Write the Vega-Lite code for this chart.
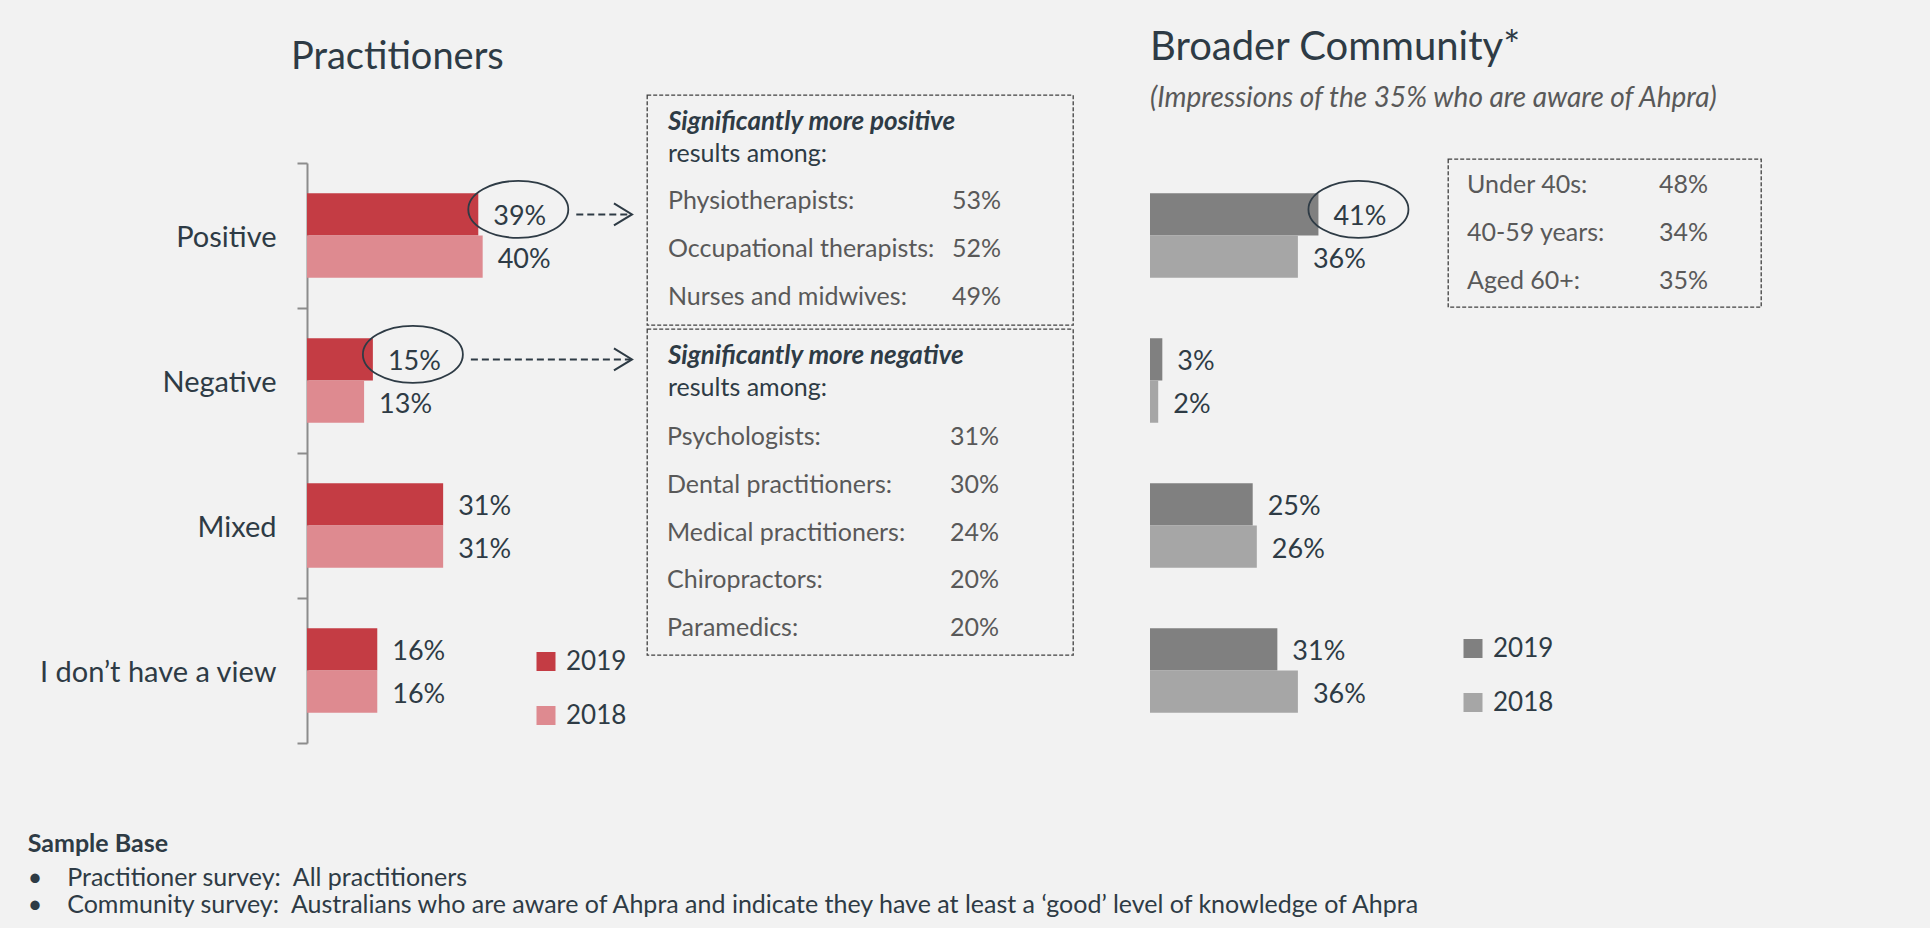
{
  "$schema": "https://vega.github.io/schema/vega-lite/v6.json",
  "background": "#F2F2F2",
  "padding": {"left": 27, "top": 28, "right": 168, "bottom": 10},
  "config": {
    "view": {"stroke": null},
    "font": "Lato",
    "title": {"font": "Lato", "subtitleFont": "Lato", "color": "#2E3B45", "subtitleColor": "#2E3B45", "fontWeight": "normal"},
    "legend": {"symbolType": "square", "symbolSize": 361, "symbolStrokeWidth": 0, "labelFont": "Lato", "labelFontSize": 26, "labelColor": "#2E3B45", "labelOffset": 7, "rowPadding": 28, "padding": 0}
  },
  "datasets": {
    "practitioners": [
      {"impression": "Positive", "year": "2019", "pct": 39, "breakdown": true},
      {"impression": "Positive", "year": "2018", "pct": 40, "breakdown": false},
      {"impression": "Negative", "year": "2019", "pct": 15, "breakdown": true},
      {"impression": "Negative", "year": "2018", "pct": 13, "breakdown": false},
      {"impression": "Mixed", "year": "2019", "pct": 31, "breakdown": false},
      {"impression": "Mixed", "year": "2018", "pct": 31, "breakdown": false},
      {"impression": "I don’t have a view", "year": "2019", "pct": 16, "breakdown": false},
      {"impression": "I don’t have a view", "year": "2018", "pct": 16, "breakdown": false}
    ],
    "community": [
      {"impression": "Positive", "year": "2019", "pct": 41, "breakdown": true},
      {"impression": "Positive", "year": "2018", "pct": 36, "breakdown": false},
      {"impression": "Negative", "year": "2019", "pct": 3, "breakdown": false},
      {"impression": "Negative", "year": "2018", "pct": 2, "breakdown": false},
      {"impression": "Mixed", "year": "2019", "pct": 25, "breakdown": false},
      {"impression": "Mixed", "year": "2018", "pct": 26, "breakdown": false},
      {"impression": "I don’t have a view", "year": "2019", "pct": 31, "breakdown": false},
      {"impression": "I don’t have a view", "year": "2018", "pct": 36, "breakdown": false}
    ],
    "positiveGroups": [
      {"group": "Physiotherapists", "pct": 53},
      {"group": "Occupational therapists", "pct": 52},
      {"group": "Nurses and midwives", "pct": 49}
    ],
    "negativeGroups": [
      {"group": "Psychologists", "pct": 31},
      {"group": "Dental practitioners", "pct": 30},
      {"group": "Medical practitioners", "pct": 24},
      {"group": "Chiropractors", "pct": 20},
      {"group": "Paramedics", "pct": 20}
    ],
    "ageGroups": [
      {"group": "Under 40s", "pct": 48},
      {"group": "40-59 years", "pct": 34},
      {"group": "Aged 60+", "pct": 35}
    ]
  },
  "title": {
    "text": "Sample Base",
    "subtitle": [
      "\u2022\u2003\u2005Practitioner survey:\u00a0\u00a0All practitioners",
      "\u2022\u2003\u2005Community survey:\u00a0\u00a0Australians who are aware of Ahpra and indicate they have at least a ‘good’ level of knowledge of Ahpra"
    ],
    "orient": "bottom", "anchor": "start", "frame": "bounds", "offset": 88, "dx": -11,
    "fontSize": 25, "fontWeight": "bold", "subtitleFontSize": 25, "subtitlePadding": 9, "subtitleLineHeight": 27
  },
  "resolve": {"scale": {"color": "independent", "fill": "independent", "yOffset": "independent"}},
  "spacing": 76,
  "hconcat": [
    {
      "resolve": {"scale": {"color": "independent"}},
      "spacing": 10,
      "hconcat": [
        {
          "resolve": {"scale": {"color": "independent"}},
          "spacing": 0,
          "vconcat": [
            {
              "width": 325, "height": 54,
              "title": {"text": "Practitioners", "anchor": "start", "frame": "group", "dx": -16, "offset": 18, "fontSize": 38},
              "data": {"values": []},
              "mark": "text"
            },
            {
              "width": 325, "height": 580,
              "data": {"name": "practitioners"},
              "transform": [{"calculate": "datum.pct + '%'", "as": "label"}],
              "encoding": {
                "y": {"field": "impression", "type": "nominal", "sort": null,
                      "scale": {"paddingInner": 0, "paddingOuter": 0},
                      "axis": {"title": null, "tickBand": "extent", "domainColor": "#8C8C8C", "domainWidth": 2, "tickColor": "#8C8C8C", "tickWidth": 2, "tickSize": 10, "labelFontSize": 29, "labelColor": "#2E3B45", "labelPadding": 21, "labelLimit": 400, "labelOffset": 2, "grid": false}},
                "x": {"field": "pct", "type": "quantitative", "scale": {"domain": [0, 74]}, "axis": null},
                "yOffset": {"field": "year", "type": "nominal", "scale": {"domain": ["2019", "2018"], "paddingInner": 0, "paddingOuter": 0.716}}
              },
              "layer": [
                {"mark": {"type": "bar"},
                 "encoding": {"color": {"field": "year", "type": "nominal", "scale": {"domain": ["2019", "2018"], "range": ["#C43C44", "#DE8A90"]}, "legend": {"title": null, "orient": "none", "legendX": 226, "legendY": 485.5}}}},
                {"transform": [{"filter": "datum.breakdown"}],
                 "mark": {"type": "point", "shape": "M-0.2,-0.1A1,0.57,0,1,0,1.8,-0.1A1,0.57,0,1,0,-0.2,-0.1Z", "size": 10000, "filled": false, "stroke": "#2E3B45", "strokeWidth": 1.8, "opacity": 1}},
                {"mark": {"type": "text", "align": "left", "baseline": "middle", "dx": 15, "dy": 3, "fontSize": 27, "color": "#2E3B45"},
                 "encoding": {"text": {"field": "label"}}},
                {"transform": [{"filter": "datum.breakdown"}],
                 "mark": {"type": "rule", "strokeDash": [7, 4], "strokeWidth": 2, "color": "#2E3B45", "xOffset": 98, "x2Offset": -2},
                 "encoding": {"x2": {"value": "width"}}},
                {"transform": [{"filter": "datum.breakdown"}],
                 "mark": {"type": "point", "shape": "M-1.64,-1L0,0L-1.64,1", "size": 484, "filled": false, "stroke": "#2E3B45", "strokeWidth": 2, "opacity": 1},
                 "encoding": {"x": {"value": "width"}}}
              ]
            }
          ]
        },
        {
          "spacing": 2,
          "vconcat": [
            {
              "width": 426, "height": 230,
              "view": {"stroke": "#404040", "strokeDash": [4, 2], "strokeWidth": 1.3},
              "title": {"text": "Significantly more positive", "subtitle": "results among:", "anchor": "start", "frame": "group", "dx": 21, "offset": -72, "fontSize": 26, "fontWeight": "bold", "fontStyle": "italic", "subtitleFontSize": 25, "subtitleFontStyle": "normal", "subtitleFontWeight": "normal", "subtitlePadding": 7},
              "data": {"name": "positiveGroups"},
              "transform": [
                {"calculate": "datum.group + ':'", "as": "label"},
                {"calculate": "datum.pct + '%'", "as": "value"},
                {"fold": ["label", "value"], "as": ["column", "cell"]}
              ],
              "mark": {"type": "text", "align": "left", "baseline": "alphabetic", "fontSize": 25, "color": "#595959"},
              "encoding": {
                "x": {"field": "column", "type": "nominal", "scale": {"type": "point", "domain": ["label", "value"], "range": [21, 305], "padding": 0}, "axis": null},
                "y": {"field": "group", "type": "nominal", "sort": null, "scale": {"type": "point", "range": [114, 210], "padding": 0}, "axis": null},
                "text": {"field": "cell"}
              }
            },
            {
              "width": 426, "height": 326,
              "view": {"stroke": "#404040", "strokeDash": [4, 2], "strokeWidth": 1.3},
              "title": {"text": "Significantly more negative", "subtitle": "results among:", "anchor": "start", "frame": "group", "dx": 21, "offset": -72, "fontSize": 26, "fontWeight": "bold", "fontStyle": "italic", "subtitleFontSize": 25, "subtitleFontStyle": "normal", "subtitleFontWeight": "normal", "subtitlePadding": 7},
              "data": {"name": "negativeGroups"},
              "transform": [
                {"calculate": "datum.group + ':'", "as": "label"},
                {"calculate": "datum.pct + '%'", "as": "value"},
                {"fold": ["label", "value"], "as": ["column", "cell"]}
              ],
              "mark": {"type": "text", "align": "left", "baseline": "alphabetic", "fontSize": 25, "color": "#595959"},
              "encoding": {
                "x": {"field": "column", "type": "nominal", "scale": {"type": "point", "domain": ["label", "value"], "range": [20, 303], "padding": 0}, "axis": null},
                "y": {"field": "group", "type": "nominal", "sort": null, "scale": {"type": "point", "range": [116, 307], "padding": 0}, "axis": null},
                "text": {"field": "cell"}
              }
            }
          ]
        }
      ]
    },
    {
      "title": {"text": "Broader Community*", "subtitle": "(Impressions of the 35% who are aware of Ahpra)", "anchor": "start", "frame": "bounds", "offset": -18, "fontSize": 40, "subtitleFontSize": 28, "subtitleFontStyle": "italic", "subtitleColor": "#595959", "subtitlePadding": 17},
      "spacing": 34,
      "hconcat": [
        {
          "spacing": 0,
          "vconcat": [
            {"width": 258, "height": 68, "data": {"values": []}, "mark": "text"},
            {
              "width": 258, "height": 580,
              "data": {"name": "community"},
              "transform": [{"calculate": "datum.pct + '%'", "as": "label"}],
              "encoding": {
                "y": {"field": "impression", "type": "nominal", "sort": null, "scale": {"paddingInner": 0, "paddingOuter": 0}, "axis": null},
                "x": {"field": "pct", "type": "quantitative", "scale": {"domain": [0, 62.8]}, "axis": null},
                "yOffset": {"field": "year", "type": "nominal", "scale": {"domain": ["2019", "2018"], "paddingInner": 0, "paddingOuter": 0.716}}
              },
              "layer": [
                {"mark": {"type": "bar"},
                 "encoding": {"fill": {"field": "year", "type": "nominal", "scale": {"domain": ["2019", "2018"], "range": ["#808080", "#A6A6A6"]}, "legend": {"title": null, "orient": "none", "legendX": 310, "legendY": 540.5}}}},
                {"transform": [{"filter": "datum.breakdown"}],
                 "mark": {"type": "point", "shape": "M-0.2,-0.1A1,0.57,0,1,0,1.8,-0.1A1,0.57,0,1,0,-0.2,-0.1Z", "size": 10000, "filled": false, "stroke": "#2E3B45", "strokeWidth": 1.8, "opacity": 1}},
                {"mark": {"type": "text", "align": "left", "baseline": "middle", "dx": 15, "dy": 3, "fontSize": 27, "color": "#2E3B45"},
                 "encoding": {"text": {"field": "label"}}}
              ]
            }
          ]
        },
        {
          "spacing": 0,
          "vconcat": [
            {"width": 313, "height": 63, "data": {"values": []}, "mark": "text"},
            {
              "width": 313, "height": 148,
              "view": {"stroke": "#404040", "strokeDash": [4, 2], "strokeWidth": 1.3},
              "data": {"name": "ageGroups"},
              "transform": [
                {"calculate": "datum.group + ':'", "as": "label"},
                {"calculate": "datum.pct + '%'", "as": "value"},
                {"fold": ["label", "value"], "as": ["column", "cell"]}
              ],
              "mark": {"type": "text", "align": "left", "baseline": "alphabetic", "fontSize": 25, "color": "#595959"},
              "encoding": {
                "x": {"field": "column", "type": "nominal", "scale": {"type": "point", "domain": ["label", "value"], "range": [19, 211], "padding": 0}, "axis": null},
                "y": {"field": "group", "type": "nominal", "sort": null, "scale": {"type": "point", "range": [34, 130], "padding": 0}, "axis": null},
                "text": {"field": "cell"}
              }
            }
          ]
        }
      ]
    }
  ]
}
